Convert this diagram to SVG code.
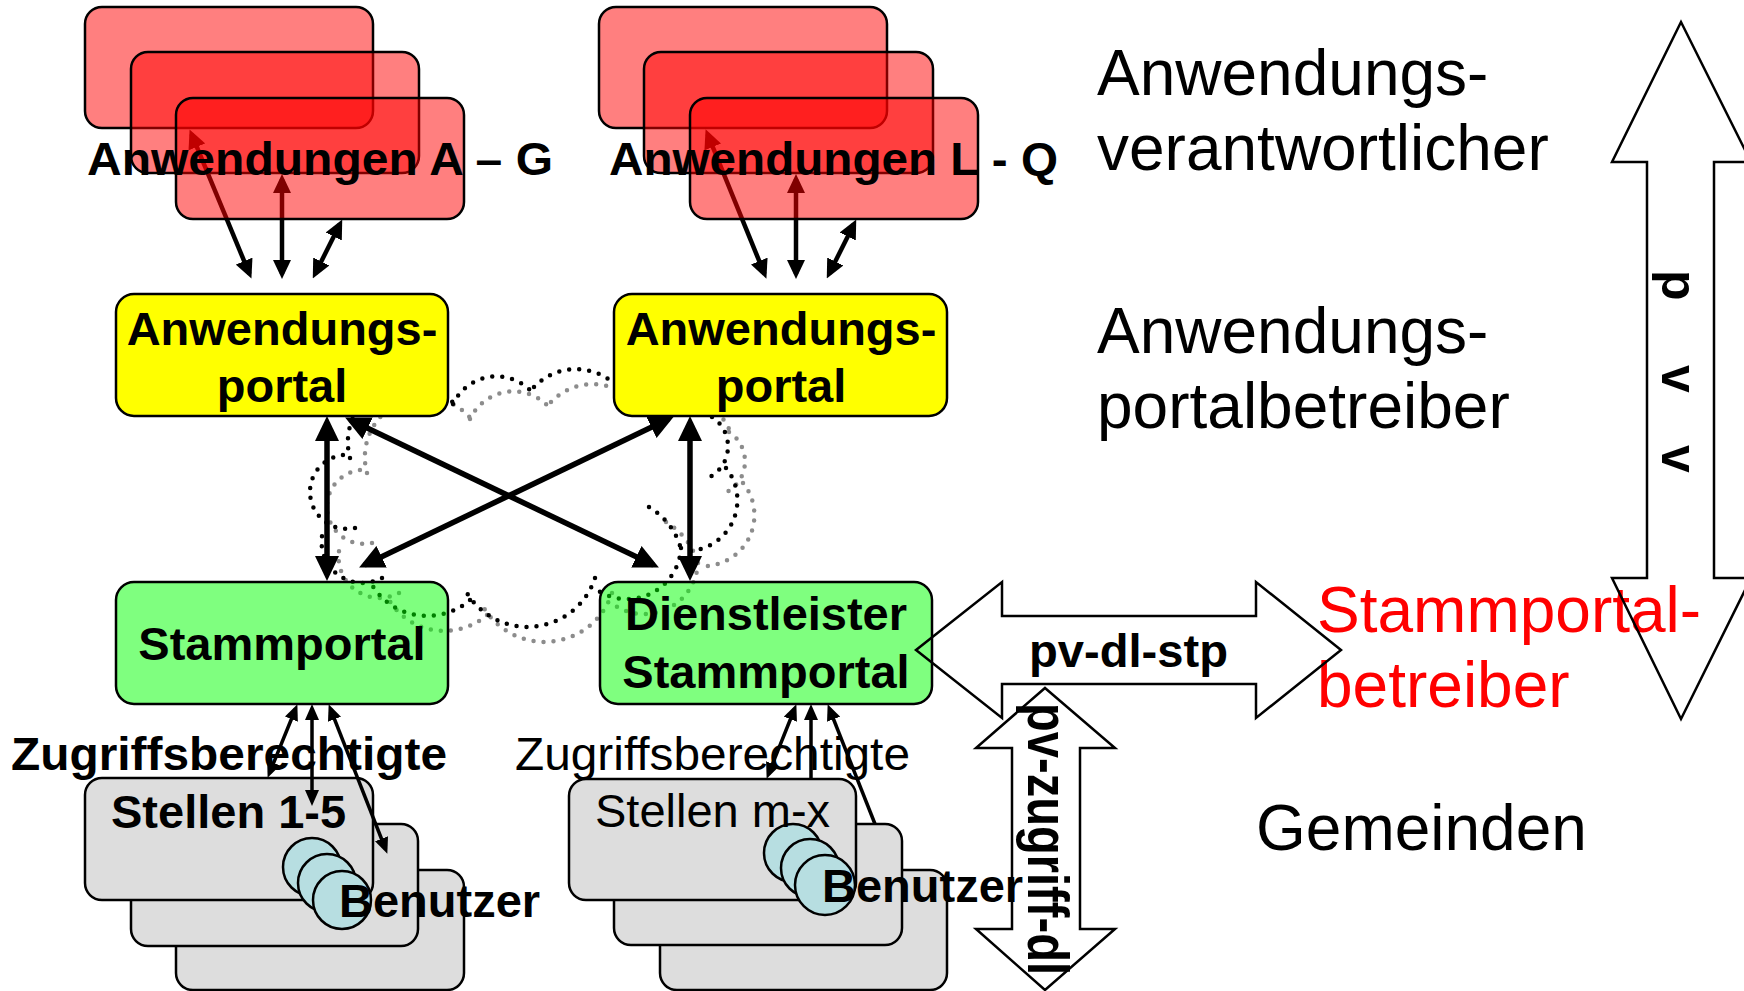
<svg xmlns="http://www.w3.org/2000/svg" width="1744" height="991" viewBox="0 0 1744 991">
<defs>
<style>
text{font-family:"Liberation Sans",Arial,Helvetica,sans-serif;fill:#000;}
.b{font-weight:bold;}
.s47{font-size:47px;}
.s64{font-size:64px;}
.red{fill:#FF0000;fill-opacity:0.5;stroke:#000;stroke-width:2.5;}
.yel{fill:#FFFF00;stroke:#000;stroke-width:2.5;}
.grn{fill:#00FF00;fill-opacity:0.5;stroke:#000;stroke-width:2.5;}
.gry{fill:#DDDDDD;stroke:#000;stroke-width:2.5;}
.usr{fill:#B7DEE1;stroke:#000;stroke-width:2.5;}
.dots{fill:none;stroke-width:4.5;stroke-linecap:round;stroke-dasharray:0 10;}
.cL{fill:none;stroke:#000;stroke-width:5.5;marker-start:url(#hA);marker-end:url(#hA);}
.cM{fill:none;stroke:#000;stroke-width:4.5;marker-start:url(#hB);marker-end:url(#hB);}
.cS{fill:none;stroke:#000;stroke-width:3.5;marker-start:url(#hC);marker-end:url(#hC);}
.cS1{fill:none;stroke:#000;stroke-width:3.5;marker-start:url(#hC);}
.blk{fill:none;stroke:#000;stroke-width:2.5;stroke-linejoin:miter;}
</style>
<marker id="hA" markerUnits="userSpaceOnUse" markerWidth="25" markerHeight="24" refX="19" refY="12" orient="auto-start-reverse"><path d="M0,0 L25,12 L0,24 z" fill="#000"/></marker>
<marker id="hB" markerUnits="userSpaceOnUse" markerWidth="19" markerHeight="18" refX="14" refY="9" orient="auto-start-reverse"><path d="M0,0 L19,9 L0,18 z" fill="#000"/></marker>
<marker id="hC" markerUnits="userSpaceOnUse" markerWidth="16" markerHeight="14" refX="11" refY="7" orient="auto-start-reverse"><path d="M0,0 L16,7 L0,14 z" fill="#000"/></marker>
<path id="cloud" d="M453,404 A48,48 0 0 1 531,391 M534,387 A58,58 0 0 1 622,392 M618,395 A60,60 0 0 1 713,416 M712,417 A35,35 0 0 1 708,478 M726,468 A51,51 0 0 1 690,551 M649,507 A70,70 0 0 1 681,549 M681,548 A54,54 0 0 1 597,590 M595,578 A71,71 0 0 1 467,593 M470,600 A65,65 0 0 1 372,585 M382,578 A41,41 0 0 1 324,528 M355,528 A37,37 0 1 1 350,455 M350,458 A60,60 0 0 1 455,405"/>
</defs>
<rect width="1744" height="991" fill="#fff"/>

<g id="cloud-shape">
<use href="#cloud" class="dots" stroke="#8C8C8C" transform="translate(17,15)"/>
<use href="#cloud" class="dots" stroke="#000"/>
</g>

<g id="stellen-1-5">
<rect class="gry" x="176" y="870" width="288" height="120" rx="17"/>
<rect class="gry" x="131" y="824" width="287" height="122" rx="17"/>
<rect class="gry" x="85" y="778" width="288" height="122" rx="17"/>
<circle class="usr" cx="312" cy="867" r="29"/>
<circle class="usr" cx="327" cy="883" r="29"/>
<circle class="usr" cx="342" cy="900" r="29"/>
<text class="b s47" x="111" y="828">Stellen 1-5</text>
<text class="b s47" x="339" y="917">Benutzer</text>
<text class="b s47" x="11" y="770" textLength="436" lengthAdjust="spacingAndGlyphs">Zugriffsberechtigte</text>
</g>

<g id="stellen-m-x">
<rect class="gry" x="660" y="870" width="287" height="120" rx="17"/>
<rect class="gry" x="614" y="824" width="288" height="121" rx="17"/>
<rect class="gry" x="569" y="779" width="287" height="121" rx="17"/>
<circle class="usr" cx="793" cy="853" r="29"/>
<circle class="usr" cx="810" cy="868" r="29"/>
<circle class="usr" cx="825" cy="885" r="30"/>
<text class="s47" x="595" y="827">Stellen m-x</text>
<text class="b s47" x="822" y="902">Benutzer</text>
<text class="s47" x="515" y="770" textLength="395" lengthAdjust="spacingAndGlyphs">Zugriffsberechtigte</text>
</g>

<g id="connectors">
<line class="cM" x1="191.5" y1="134" x2="249.5" y2="274"/>
<line class="cM" x1="282" y1="179" x2="282" y2="274"/>
<line class="cM" x1="340" y1="224" x2="315" y2="274"/>
<line class="cM" x1="707.5" y1="134" x2="764.5" y2="274"/>
<line class="cM" x1="796" y1="179" x2="796" y2="274"/>
<line class="cM" x1="854" y1="224" x2="829" y2="274"/>
<line class="cL" x1="327" y1="422" x2="327" y2="575"/>
<line class="cL" x1="690" y1="422" x2="690" y2="575"/>
<line class="cL" x1="350.5" y1="420" x2="653.5" y2="565"/>
<line class="cL" x1="668.5" y1="419" x2="364.5" y2="565"/>
<line class="cS" x1="295.5" y1="709" x2="269.5" y2="773"/>
<line class="cS" x1="312" y1="709" x2="312" y2="801"/>
<line class="cS" x1="330.5" y1="709" x2="385.5" y2="849"/>
<line class="cS" x1="794.5" y1="709" x2="768.5" y2="774"/>
<line class="cS1" x1="811" y1="709" x2="811" y2="779"/>
<line class="cS1" x1="829.5" y1="709" x2="875" y2="824"/>
</g>

<g id="anwendungen-a-g">
<rect class="red" x="85" y="7" width="288" height="121" rx="17"/>
<rect class="red" x="131" y="52" width="288" height="121" rx="17"/>
<rect class="red" x="176" y="98" width="288" height="121" rx="17"/>
<text class="b s47" x="87" y="175" textLength="466" lengthAdjust="spacingAndGlyphs">Anwendungen A – G</text>
</g>

<g id="anwendungen-l-q">
<rect class="red" x="599" y="7" width="288" height="121" rx="17"/>
<rect class="red" x="644" y="52" width="289" height="121" rx="17"/>
<rect class="red" x="690" y="98" width="288" height="121" rx="17"/>
<text class="b s47" x="609" y="175" textLength="449" lengthAdjust="spacingAndGlyphs">Anwendungen L - Q</text>
</g>

<g id="anwendungsportal-1">
<rect class="yel" x="116" y="294" width="332" height="122" rx="18"/>
<text class="b s47" x="282" y="345" text-anchor="middle">Anwendungs-</text>
<text class="b s47" x="282" y="402" text-anchor="middle">portal</text>
</g>

<g id="anwendungsportal-2">
<rect class="yel" x="614" y="294" width="333" height="122" rx="18"/>
<text class="b s47" x="781" y="345" text-anchor="middle">Anwendungs-</text>
<text class="b s47" x="781" y="402" text-anchor="middle">portal</text>
</g>

<g id="stammportal">
<rect class="grn" x="116" y="582" width="332" height="122" rx="18"/>
<text class="b s47" x="282" y="660" text-anchor="middle">Stammportal</text>
</g>

<g id="dienstleister-stammportal">
<rect class="grn" x="600" y="582" width="332" height="122" rx="18"/>
<text class="b s47" x="766" y="630" text-anchor="middle">Dienstleister</text>
<text class="b s47" x="766" y="688" text-anchor="middle">Stammportal</text>
</g>

<g id="roles">
<text class="s64" x="1097" y="95">Anwendungs-</text>
<text class="s64" x="1097" y="170">verantwortlicher</text>
<text class="s64" x="1097" y="353">Anwendungs-</text>
<text class="s64" x="1097" y="428">portalbetreiber</text>
<text class="s64" x="1317" y="632" style="fill:#FF0000">Stammportal-</text>
<text class="s64" x="1317" y="707" style="fill:#FF0000">betreiber</text>
<text class="s64" x="1256" y="850">Gemeinden</text>
</g>

<g id="pv-dl-stp">
<polygon class="blk" points="916,650 1002,582 1002,616 1256,616 1256,582 1341,650 1256,718 1256,684 1002,684 1002,718"/>
<text class="b" font-size="46" x="1029" y="667" textLength="199" lengthAdjust="spacingAndGlyphs">pv-dl-stp</text>
</g>

<g id="pv-zugriff-dl">
<polygon class="blk" points="1045,688 1115,748 1080,748 1080,929 1115,929 1045,990 976,929 1012,929 1012,748 976,748"/>
<text class="b" font-size="58" transform="translate(1028,703) rotate(90)" textLength="272" lengthAdjust="spacingAndGlyphs">pv-zugriff-dl</text>
</g>

<g id="pvv-arrow">
<polygon class="blk" points="1681,22 1751,162 1714,162 1714,578 1751,578 1681,719 1612,578 1647,578 1647,162 1612,162"/>
<text class="b" font-size="50" transform="translate(1662,270) rotate(90)" x="0 95 175">pvv</text>
</g>
</svg>
